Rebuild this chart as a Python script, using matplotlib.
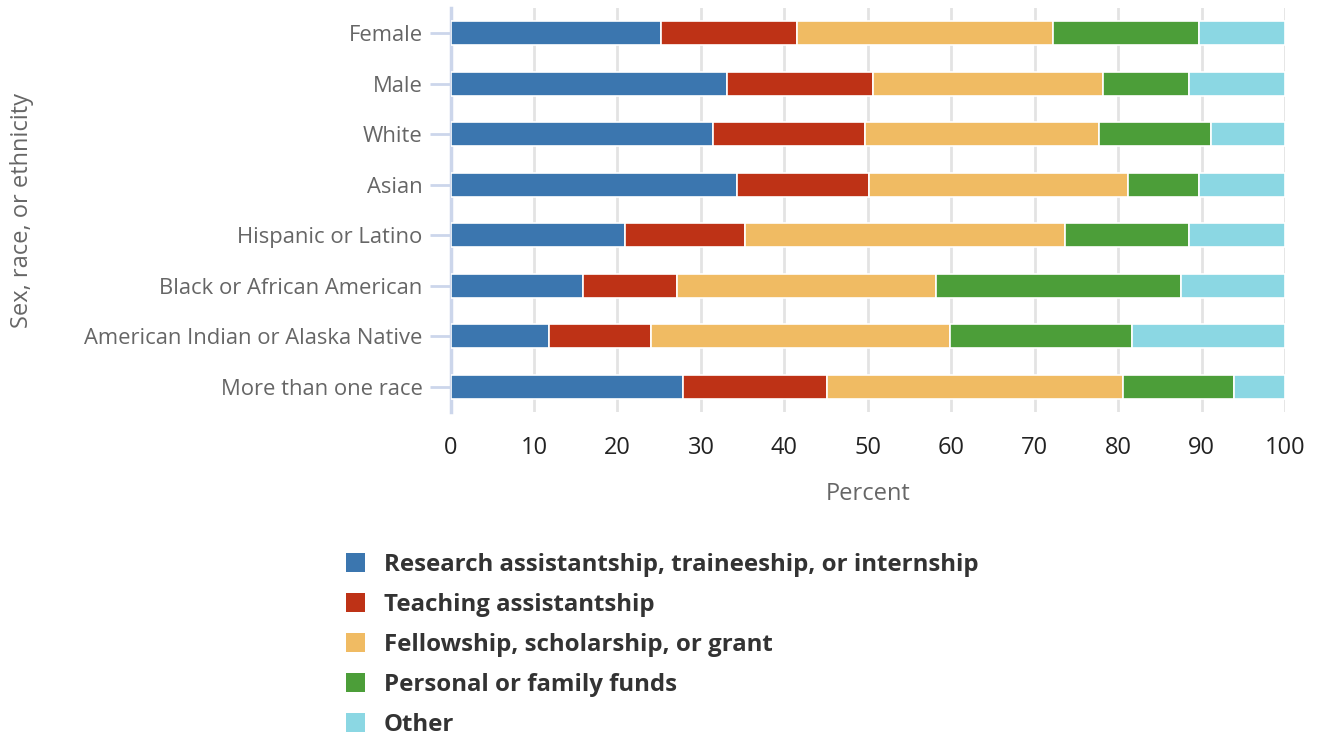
import numpy as np
import matplotlib
matplotlib.use("Agg")
import matplotlib.pyplot as plt
from matplotlib.patches import Patch

# data (percent of doctorate recipients by primary source of support)
groups = ["Female", "Male", "White", "Asian", "Hispanic or Latino",
          "Black or African American", "American Indian or Alaska Native",
          "More than one race"]
research = [25.2, 33.1, 31.4, 34.3, 20.9, 15.9, 11.8, 27.9]
teaching = [16.3, 17.5, 18.3, 15.8, 14.4, 11.2, 12.2, 17.2]
fellowship = [30.7, 27.6, 28.0, 31.0, 38.3, 31.0, 35.8, 35.5]
personal = [17.5, 10.3, 13.4, 8.6, 14.9, 29.4, 21.8, 13.2]
other = [10.3, 11.5, 8.9, 10.3, 11.5, 12.5, 18.4, 6.2]

series_names = ["Research assistantship, traineeship, or internship",
                "Teaching assistantship",
                "Fellowship, scholarship, or grant",
                "Personal or family funds",
                "Other"]
colors = ["#3b76af", "#be3216", "#f0bb63", "#4c9e39", "#8bd7e3"]

plt.rcParams['font.family'] = ['Open Sans', 'DejaVu Sans']

fig = plt.figure(figsize=(13.19, 7.36), dpi=100)
W, H = 1319, 736
ax = fig.add_axes([450.5 / W, 1 - 412 / H, (1285.3 - 450.5) / W, (412 - 8) / H])

y = np.arange(len(groups))
left = np.zeros(len(groups))
for vals, c in zip([research, teaching, fellowship, personal, other], colors):
    vals = np.array(vals)
    ax.barh(y, vals, left=left, height=0.48, color=c, edgecolor="white",
            linewidth=1.2, zorder=3)
    left += vals

ax.set_xlim(0, 100)
ax.set_ylim(len(groups) - 0.5, -0.5)
ax.set_xticks(np.arange(0, 101, 10))
ax.set_yticks(y)
ax.set_yticklabels(groups)
ax.grid(axis="x", color="#e3e3e3", linewidth=2, zorder=0)
ax.set_axisbelow(True)

for s in ["top", "right", "bottom"]:
    ax.spines[s].set_visible(False)
ax.spines["left"].set_color("#ccd6eb")
ax.spines["left"].set_linewidth(2.5)

ax.tick_params(axis="y", length=15, width=2, color="#ccd6eb", pad=5,
               labelsize=15.8, labelcolor="#666666")
ax.tick_params(axis="x", length=0, pad=17, labelsize=17, labelcolor="#222222")

ax.set_xlabel("Percent", fontsize=17, color="#666666", labelpad=16)
fig.text(22 / W, 1 - 211 / H, "Sex, race, or ethnicity", rotation=90,
         fontsize=17, color="#666666", ha="center", va="center")

handles = [Patch(facecolor=c, edgecolor="none") for c in colors]
fig.legend(handles, series_names, loc="upper left",
           bbox_to_anchor=(336 / W, 1 - 543 / H), frameon=False,
           prop={"weight": "bold", "size": 17.3}, labelcolor="#333333",
           handlelength=0.82, handleheight=0.82, handletextpad=0.78,
           labelspacing=0.665, borderaxespad=0)

fig.savefig("out.png", dpi=100)
